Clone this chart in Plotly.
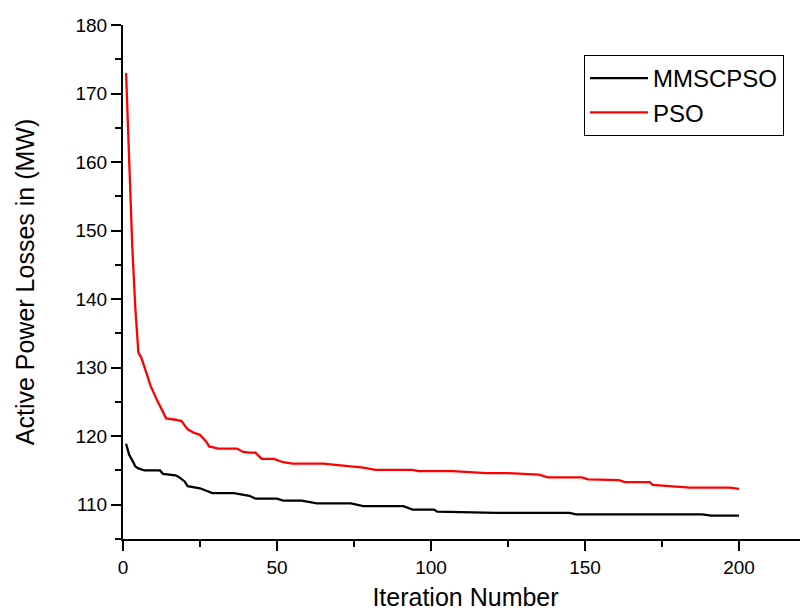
import plotly.graph_objects as go

# MMSCPSO convergence (iteration, active power loss in MW)
mmscpso_iter = [1, 2, 3, 4, 5, 7, 12, 13, 17, 18, 20, 21, 25, 27, 29, 36, 39, 41, 43, 50,
                52, 58, 63, 74, 78, 91, 94, 101, 102, 119, 121, 145, 147, 188, 191, 200]
mmscpso_loss = [118.9, 117.3, 116.5, 115.6, 115.3, 115.0, 115.0, 114.5, 114.3, 114.1, 113.4, 112.7,
                112.4, 112.0, 111.7, 111.7, 111.4, 111.3, 110.9, 110.9, 110.6, 110.6, 110.2, 110.2,
                109.8, 109.8, 109.3, 109.3, 109.0, 108.9, 108.8, 108.8, 108.6, 108.6, 108.4, 108.4]

# PSO convergence
pso_iter = [1, 2, 3, 4, 5, 6, 9, 11, 14, 17, 19, 21, 23, 25, 27, 28, 31, 37, 39, 41, 43, 45,
            49, 52, 55, 65, 78, 82, 94, 96, 107, 118, 125, 135, 138, 149, 151, 161, 163, 171,
            172, 184, 197, 200]
pso_loss = [173.0, 160.4, 147.8, 138.7, 132.2, 131.4, 127.3, 125.3, 122.6, 122.4, 122.2, 121.0,
            120.5, 120.2, 119.2, 118.5, 118.2, 118.2, 117.7, 117.6, 117.6, 116.7, 116.7, 116.2,
            116.0, 116.0, 115.4, 115.1, 115.1, 114.9, 114.9, 114.6, 114.6, 114.4, 114.0, 114.0,
            113.7, 113.6, 113.3, 113.3, 112.9, 112.5, 112.5, 112.3]

x_ticks = [0, 50, 100, 150, 200]
y_ticks = [110, 120, 130, 140, 150, 160, 170, 180]

FONT = "Arial, Liberation Sans, sans-serif"

# the page body has an 8px margin, so the figure is 8px smaller than the window
W, H = 800, 605
L, R, T, B = 115, 0, 17, 74
PW, PH = W - L - R, H - T - B

# legend box (figure pixels)
LG_X, LG_Y, LG_W, LG_H = 576, 47, 199, 79

fig = go.Figure()
fig.add_trace(go.Scatter(x=mmscpso_iter, y=mmscpso_loss, mode="lines", name="MMSCPSO",
                         line=dict(color="#000000", width=2.3)))
fig.add_trace(go.Scatter(x=pso_iter, y=pso_loss, mode="lines", name="PSO",
                         line=dict(color="#ff0000", width=2.3)))

# legend shadow
fig.add_shape(type="rect", xref="paper", yref="paper",
              x0=(LG_X + 1 - L) / PW, x1=(LG_X + LG_W + 1 - L) / PW,
              y0=(H - B - (LG_Y + LG_H + 2)) / PH, y1=(H - B - (LG_Y + 2)) / PH,
              fillcolor="#7f7f7f", line=dict(width=0), layer="above")

fig.update_layout(
    width=W, height=H,
    margin=dict(l=L, r=R, t=T, b=B, autoexpand=False),
    paper_bgcolor="white", plot_bgcolor="white",
    font=dict(family=FONT, color="black", size=19),
    showlegend=True,
    legend=dict(x=(LG_X - L) / PW, y=(H - B - LG_Y) / PH, xanchor="left", yanchor="top",
                bgcolor="white", bordercolor="black", borderwidth=1,
                font=dict(size=24, family=FONT), itemwidth=58,
                tracegroupgap=0),
    xaxis=dict(range=[0, 222.4], tickvals=x_ticks, ticks="outside", ticklen=10, tickwidth=2,
               tickcolor="black", showline=True, linewidth=2, linecolor="black",
               showgrid=False, zeroline=False, tickfont=dict(size=19), automargin=True,
               minor=dict(dtick=25, tick0=0, ticks="outside", ticklen=6, tickwidth=2,
                          tickcolor="black", showgrid=False),
               title=dict(text="Iteration Number", font=dict(size=25), standoff=12)),
    yaxis=dict(range=[105, 180], tickvals=y_ticks, ticks="outside", ticklen=10, tickwidth=2,
               tickcolor="black", showline=True, linewidth=2, linecolor="black",
               showgrid=False, zeroline=False, tickfont=dict(size=19), automargin=True,
               minor=dict(dtick=5, tick0=0, ticks="outside", ticklen=6, tickwidth=2,
                          tickcolor="black", showgrid=False),
               title=dict(text="Active Power Losses in (MW)", font=dict(size=25), standoff=34)),
)

fig.write_html("out.html")
